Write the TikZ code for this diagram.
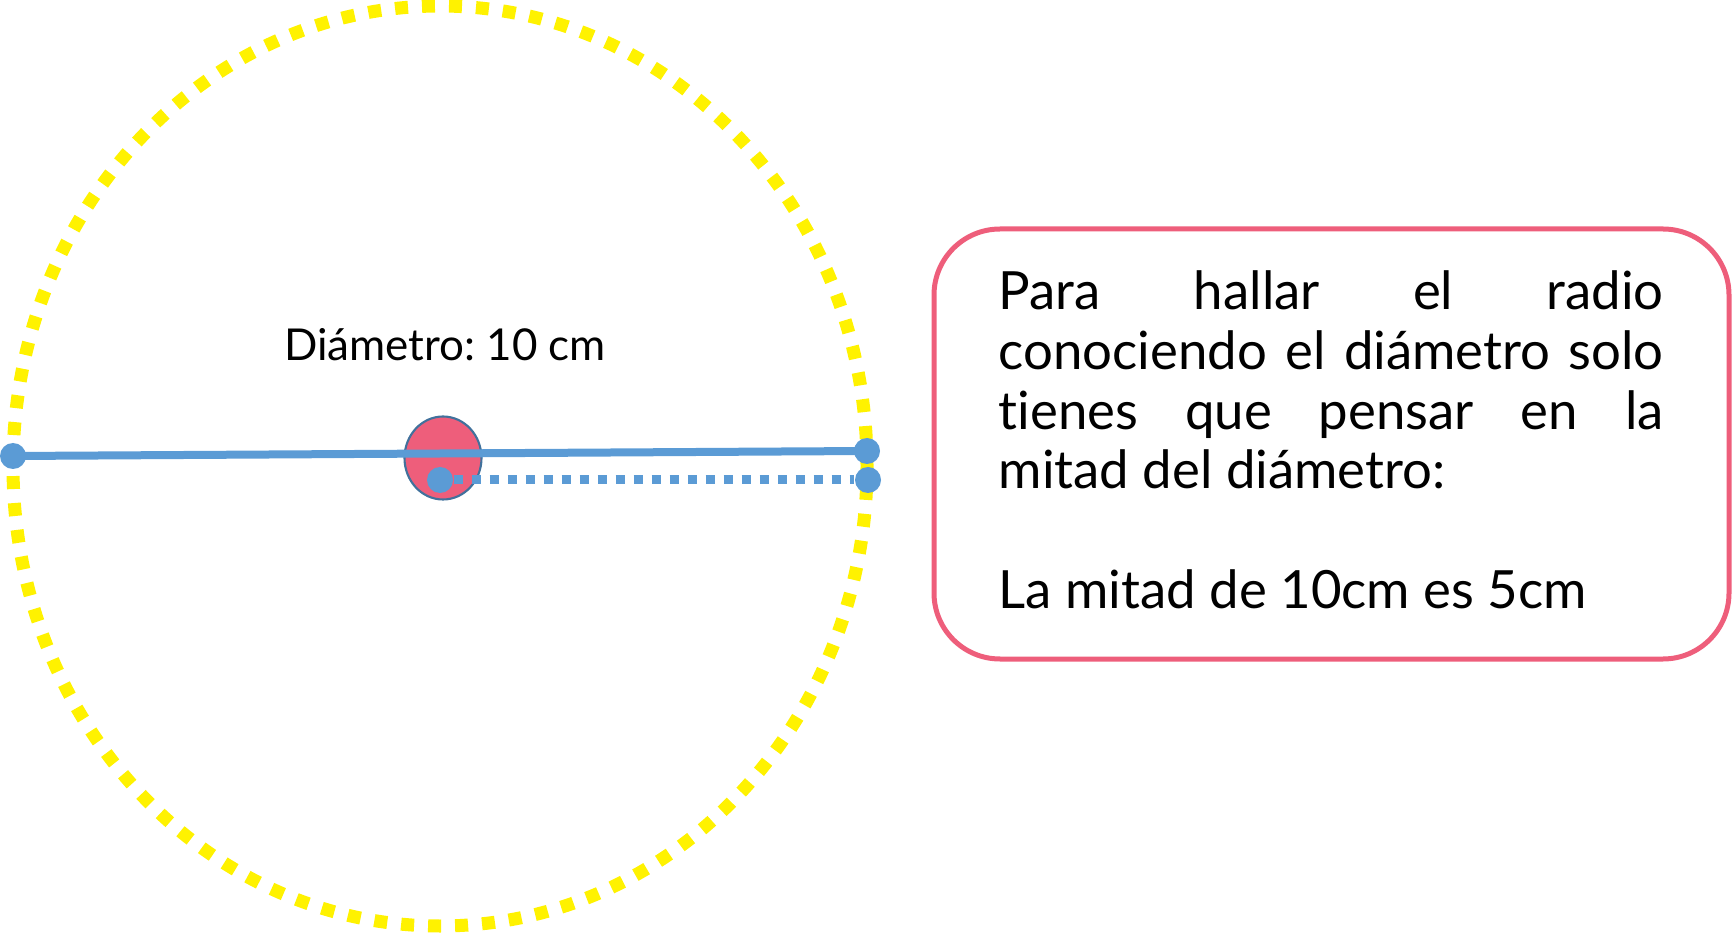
\documentclass[tikz,border=0pt]{standalone}
\usepackage{fontspec}
\setmainfont{Lato}[Ligatures=NoCommon]
\frenchspacing
\usetikzlibrary{positioning}
\definecolor{dotblue}{HTML}{5B9BD5}
\definecolor{rosa}{HTML}{EE5E7B}
\definecolor{rimblue}{HTML}{41719C}
\tikzset{
    bluedot/.style = {circle, fill=dotblue, inner sep=0pt, minimum size=0.26cm},
    ring/.style = {draw=yellow, line width=0.13cm, dash pattern=on 0.13cm off 0.14cm},
    diamline/.style = {draw=dotblue, line width=0.08cm},
    radline/.style = {draw=dotblue, line width=0.09cm, dash pattern=on 0.09cm off 0.09cm},
    notebox/.style = {rectangle, rounded corners=0.66cm, draw=rosa, line width=0.05cm},
    notetext/.style = {anchor=north west, inner sep=0pt, text width=6.65cm, align=justify,
        font=\fontsize{15}{17}\selectfont}
}

\begin{document}
\begin{tikzpicture}
  \useasboundingbox (0,0) rectangle (17.32,9.32);
  \draw[ring] (4.40,4.66) ellipse [x radius=4.27cm, y radius=4.60cm];
  \fill[rosa, draw=rimblue, line width=0.6pt] (4.43,4.74) ellipse [x radius=0.385cm, y radius=0.415cm];

  \node[bluedot] (a) at (0.13,4.76) {};
  \node[bluedot] (b) at (8.67,4.81) {};
  \node[bluedot] (o) at (4.40,4.52) {};
  \node[bluedot] (r) at (8.68,4.52) {};
  \draw[diamline] (a.center) -- (b.center);
  \draw[radline] (o.east) -- (r.west);

  \node[font=\fontsize{12.5}{15}\selectfont] (lbl) at (4.45,5.87) {Diámetro: 10 cm};

  \node[notebox, minimum width=7.95cm, minimum height=4.30cm] (box) at (13.315,4.88) {};
  \node[notetext] (txt) at (9.98,6.62) {Para hallar el radio\linebreak conociendo el diámetro solo\linebreak tienes que pensar en la\linebreak mitad del diámetro:\\ \mbox{}\\ La mitad de 10cm es 5cm};
\end{tikzpicture}
\end{document}
